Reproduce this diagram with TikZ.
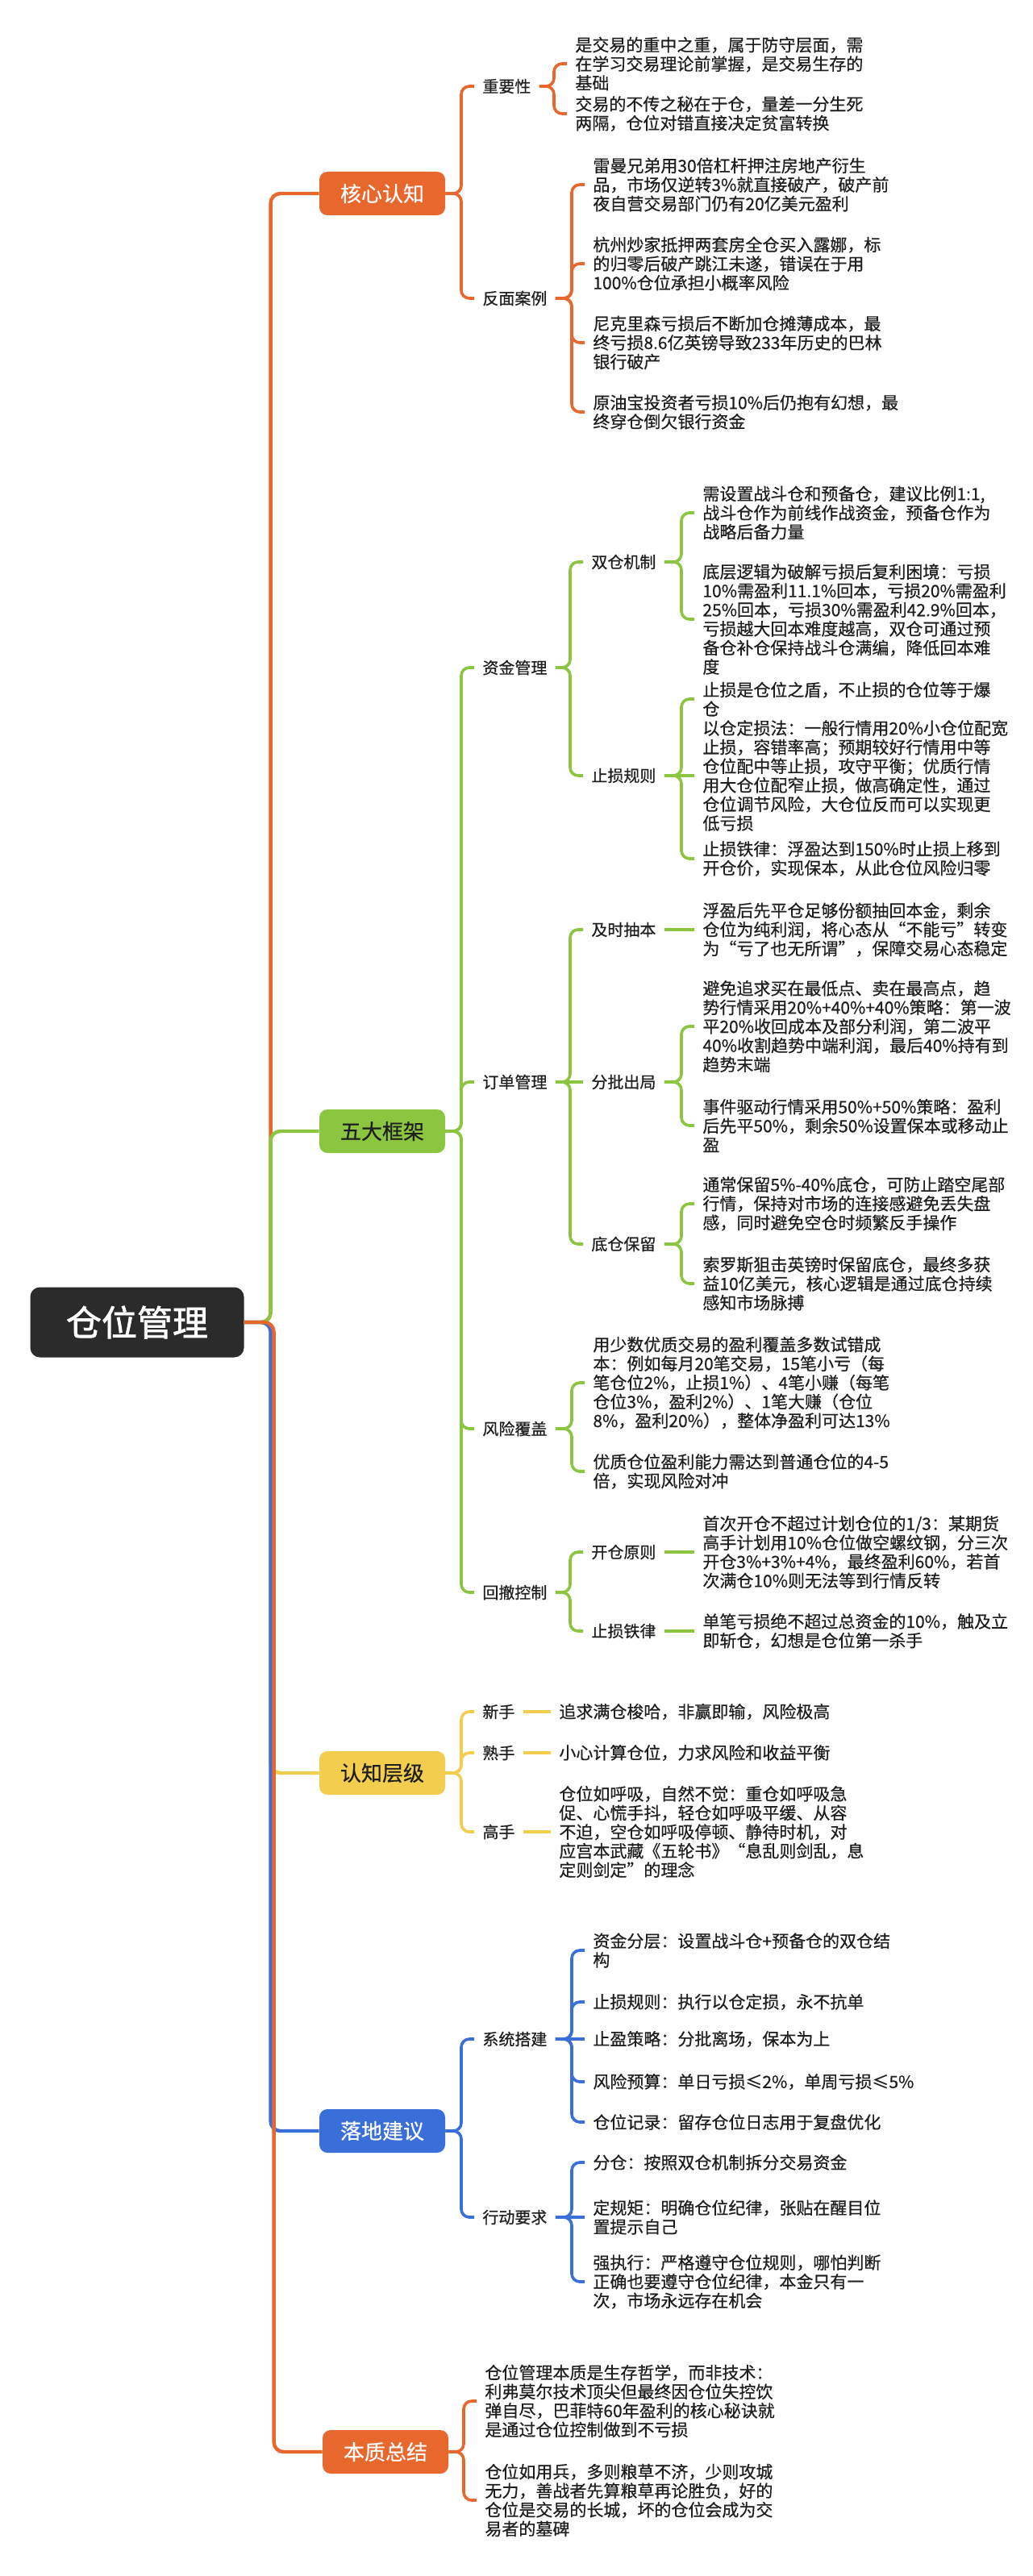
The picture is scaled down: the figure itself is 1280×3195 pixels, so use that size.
\documentclass[tikz,border=0pt]{standalone}
\usepackage{fontspec}
\setmainfont{Noto Sans CJK SC}[FakeBold=0.5]
\newfontfamily\rootfont[FakeBold=1.6]{Noto Sans CJK SC}
\definecolor{RootGray}{HTML}{2B2B2B}
\definecolor{CoreOrange}{HTML}{E8672D}
\definecolor{FrameGreen}{HTML}{8CC540}
\definecolor{LevelYellow}{HTML}{F3CD4E}
\definecolor{LandBlue}{HTML}{3A6FD9}
\definecolor{InkBlack}{HTML}{1E1E1E}

\begin{document}
\begin{tikzpicture}[x=0.5pt,y=-0.5pt,
  rootbox/.style={fill=RootGray,text=white,rounded corners=6pt,minimum width=132.5pt,
    minimum height=43.5pt,font=\rootfont\fontsize{22}{26}\selectfont},
  mainbox/.style={rounded corners=5pt,minimum width=78pt,minimum height=27pt,inner sep=0pt,
    text=InkBlack,font=\fontsize{13}{15}\selectfont},
  sub/.style={anchor=west,inner xsep=5pt,inner ysep=2pt,text=InkBlack,font=\fontsize{10}{12}\selectfont},
  leaf/.style={anchor=west,align=left,inner xsep=5pt,inner ysep=2pt,text=InkBlack,
    font=\fontsize{10.5}{11.8}\selectfont},
  trunk/.style={line width=2.2pt,rounded corners=6pt},
  link/.style={line width=1.8pt,rounded corners=5pt}]
  \fill[white] (0,0) rectangle (1280,3195);
  \useasboundingbox (0,0) rectangle (1280,3195);
  % root and the five main branches
  \node[rootbox] (root) at (170,1640) {仓位管理};
  \node[mainbox,fill=CoreOrange,text=white] (core) at (474,240) {核心认知};
  \node[mainbox,fill=FrameGreen] (frame) at (474,1403) {五大框架};
  \node[mainbox,fill=LevelYellow] (level) at (474,2199) {认知层级};
  \node[mainbox,fill=LandBlue,text=white] (land) at (474,2643) {落地建议};
  \node[mainbox,fill=CoreOrange,text=white] (sum) at (478,3041) {本质总结};
  % core
  \node[sub] (imp) at (588,107) {重要性};
  \node[sub] (neg) at (588,370) {反面案例};
  \node[leaf] (imp1) at (703,79) {是交易的重中之重，属于防守层面，需\\在学习交易理论前掌握，是交易生存的\\基础};
  \node[leaf] (imp2) at (703,141) {交易的不传之秘在于仓，量差一分生死\\两隔，仓位对错直接决定贫富转换};
  \node[leaf] (neg1) at (725,229) {雷曼兄弟用30倍杠杆押注房地产衍生\\品，市场仅逆转3\%就直接破产，破产前\\夜自营交易部门仍有20亿美元盈利};
  \node[leaf] (neg2) at (725,327) {杭州炒家抵押两套房全仓买入露娜，标\\的归零后破产跳江未遂，错误在于用\\100\%仓位承担小概率风险};
  \node[leaf] (neg3) at (725,425) {尼克里森亏损后不断加仓摊薄成本，最\\终亏损8.6亿英镑导致233年历史的巴林\\银行破产};
  \node[leaf] (neg4) at (725,511) {原油宝投资者亏损10\%后仍抱有幻想，最\\终穿仓倒欠银行资金};
  % frame
  \node[sub] (fund) at (588,828) {资金管理};
  \node[sub] (order) at (588,1342) {订单管理};
  \node[sub] (risk) at (588,1772) {风险覆盖};
  \node[sub] (dd) at (588,1975) {回撤控制};
  \node[sub] (dual) at (723,697) {双仓机制};
  \node[sub] (stop) at (723,962) {止损规则};
  \node[sub] (take) at (723,1153) {及时抽本};
  \node[sub] (batch) at (723,1342) {分批出局};
  \node[sub] (base) at (723,1543) {底仓保留};
  \node[sub] (open) at (723,1925) {开仓原则};
  \node[sub] (iron) at (723,2023) {止损铁律};
  \node[leaf] (dual1) at (861,636) {需设置战斗仓和预备仓，建议比例1:1,\\战斗仓作为前线作战资金，预备仓作为\\战略后备力量};
  \node[leaf] (dual2) at (861,768) {底层逻辑为破解亏损后复利困境：亏损\\10\%需盈利11.1\%回本，亏损20\%需盈利\\25\%回本，亏损30\%需盈利42.9\%回本，\\亏损越大回本难度越高，双仓可通过预\\备仓补仓保持战斗仓满编，降低回本难\\度};
  \node[leaf] (stop1) at (861,867) {止损是仓位之盾，不止损的仓位等于爆\\仓};
  \node[leaf] (stop2) at (861,962) {以仓定损法：一般行情用20\%小仓位配宽\\止损，容错率高；预期较好行情用中等\\仓位配中等止损，攻守平衡；优质行情\\用大仓位配窄止损，做高确定性，通过\\仓位调节风险，大仓位反而可以实现更\\低亏损};
  \node[leaf] (stop3) at (861,1065) {止损铁律：浮盈达到150\%时止损上移到\\开仓价，实现保本，从此仓位风险归零};
  \node[leaf] (take1) at (861,1153) {浮盈后先平仓足够份额抽回本金，剩余\\仓位为纯利润，将心态从“不能亏”转变\\为“亏了也无所谓”，保障交易心态稳定};
  \node[leaf] (batch1) at (861,1273) {避免追求买在最低点、卖在最高点，趋\\势行情采用20\%+40\%+40\%策略：第一波\\平20\%收回成本及部分利润，第二波平\\40\%收割趋势中端利润，最后40\%持有到\\趋势末端};
  \node[leaf] (batch2) at (861,1396) {事件驱动行情采用50\%+50\%策略：盈利\\后先平50\%，剩余50\%设置保本或移动止\\盈};
  \node[leaf] (base1) at (861,1493) {通常保留5\%-40\%底仓，可防止踏空尾部\\行情，保持对市场的连接感避免丢失盘\\感，同时避免空仓时频繁反手操作};
  \node[leaf] (base2) at (861,1592) {索罗斯狙击英镑时保留底仓，最终多获\\益10亿美元，核心逻辑是通过底仓持续\\感知市场脉搏};
  \node[leaf] (risk1) at (725,1715) {用少数优质交易的盈利覆盖多数试错成\\本：例如每月20笔交易，15笔小亏（每\\笔仓位2\%，止损1\%）、4笔小赚（每笔\\仓位3\%，盈利2\%）、1笔大赚（仓位\\8\%，盈利20\%），整体净盈利可达13\%};
  \node[leaf] (risk2) at (725,1825) {优质仓位盈利能力需达到普通仓位的4-5\\倍，实现风险对冲};
  \node[leaf] (open1) at (861,1925) {首次开仓不超过计划仓位的1/3：某期货\\高手计划用10\%仓位做空螺纹钢，分三次\\开仓3\%+3\%+4\%，最终盈利60\%，若首\\次满仓10\%则无法等到行情反转};
  \node[leaf] (iron1) at (861,2023) {单笔亏损绝不超过总资金的10\%，触及立\\即斩仓，幻想是仓位第一杀手};
  % level
  \node[sub] (novice) at (588,2123) {新手};
  \node[sub] (skilled) at (588,2174) {熟手};
  \node[sub] (master) at (588,2272) {高手};
  \node[leaf] (novice1) at (683,2123) {追求满仓梭哈，非赢即输，风险极高};
  \node[leaf] (skilled1) at (683,2174) {小心计算仓位，力求风险和收益平衡};
  \node[leaf] (master1) at (683,2272) {仓位如呼吸，自然不觉：重仓如呼吸急\\促、心慌手抖，轻仓如呼吸平缓、从容\\不迫，空仓如呼吸停顿、静待时机，对\\应宫本武藏《五轮书》“息乱则剑乱，息\\定则剑定”的理念};
  % land
  \node[sub] (sys) at (588,2529) {系统搭建};
  \node[sub] (act) at (588,2750) {行动要求};
  \node[leaf] (sys1) at (725,2419) {资金分层：设置战斗仓+预备仓的双仓结\\构};
  \node[leaf] (sys2) at (725,2483) {止损规则：执行以仓定损，永不抗单};
  \node[leaf] (sys3) at (725,2529) {止盈策略：分批离场，保本为上};
  \node[leaf] (sys4) at (725,2582) {风险预算：单日亏损≤2\%，单周亏损≤5\%};
  \node[leaf] (sys5) at (725,2632) {仓位记录：留存仓位日志用于复盘优化};
  \node[leaf] (act1) at (725,2682) {分仓：按照双仓机制拆分交易资金};
  \node[leaf] (act2) at (725,2750) {定规矩：明确仓位纪律，张贴在醒目位\\置提示自己};
  \node[leaf] (act3) at (725,2830) {强执行：严格遵守仓位规则，哪怕判断\\正确也要遵守仓位纪律，本金只有一\\次，市场永远存在机会};
  % summary
  \node[leaf] (sum1) at (591,2978) {仓位管理本质是生存哲学，而非技术：\\利弗莫尔技术顶尖但最终因仓位失控饮\\弹自尽，巴菲特60年盈利的核心秘诀就\\是通过仓位控制做到不亏损};
  \node[leaf] (sum2) at (591,3101) {仓位如用兵，多则粮草不济，少则攻城\\无力，善战者先算粮草再论胜负，好的\\仓位是交易的长城，坏的仓位会成为交\\易者的墓碑};
  % connectors: root first, last orange one lies on top below the root
  \foreach \c/\col in {core/CoreOrange,frame/FrameGreen,level/LevelYellow,land/LandBlue,sum/CoreOrange}
    \draw[trunk,\col] (root.east) -| ([xshift=-30pt]\c.west) -- (\c.west);
  \foreach \p/\c/\col in {core/imp/CoreOrange,core/neg/CoreOrange,imp/imp1/CoreOrange,imp/imp2/CoreOrange,
      neg/neg1/CoreOrange,neg/neg2/CoreOrange,neg/neg3/CoreOrange,neg/neg4/CoreOrange,
      frame/fund/FrameGreen,frame/order/FrameGreen,frame/risk/FrameGreen,frame/dd/FrameGreen,
      fund/dual/FrameGreen,fund/stop/FrameGreen,order/take/FrameGreen,order/base/FrameGreen,
      dual/dual1/FrameGreen,dual/dual2/FrameGreen,stop/stop1/FrameGreen,stop/stop3/FrameGreen,
      batch/batch1/FrameGreen,batch/batch2/FrameGreen,base/base1/FrameGreen,base/base2/FrameGreen,
      risk/risk1/FrameGreen,risk/risk2/FrameGreen,dd/open/FrameGreen,dd/iron/FrameGreen,
      level/novice/LevelYellow,level/skilled/LevelYellow,level/master/LevelYellow,
      land/sys/LandBlue,land/act/LandBlue,sys/sys1/LandBlue,sys/sys2/LandBlue,sys/sys4/LandBlue,
      sys/sys5/LandBlue,act/act1/LandBlue,act/act3/LandBlue,sum/sum1/CoreOrange,sum/sum2/CoreOrange}
    \draw[link,\col] (\p.east) -| ([xshift=-8pt]\c.west) -- (\c.west);
  % same height: plain straight links
  \foreach \p/\c/\col in {stop/stop2/FrameGreen,order/batch/FrameGreen,take/take1/FrameGreen,
      open/open1/FrameGreen,iron/iron1/FrameGreen,novice/novice1/LevelYellow,
      skilled/skilled1/LevelYellow,master/master1/LevelYellow,sys/sys3/LandBlue,act/act2/LandBlue}
    \draw[link,\col] (\p.east) -- (\c.west);
\end{tikzpicture}
\end{document}
